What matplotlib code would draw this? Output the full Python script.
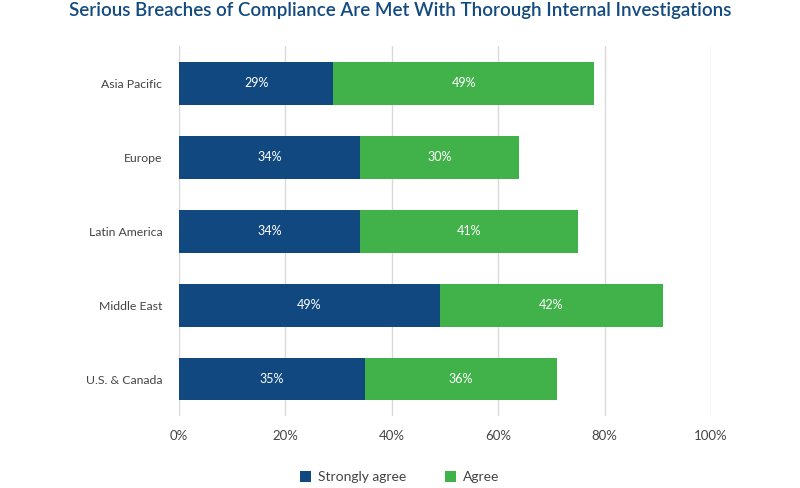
import numpy as np
import matplotlib.pyplot as plt

regions = ["Asia Pacific", "Europe", "Latin America", "Middle East", "U.S. & Canada"]
strongly_agree = [29, 34, 34, 49, 35]
agree = [49, 30, 41, 42, 36]
xticks = [0, 20, 40, 60, 80, 100]

blue = "#11487f"
green = "#41b14a"

plt.rcParams['font.family'] = ['Lato', 'DejaVu Sans']

fig = plt.figure(figsize=(8, 4.88), dpi=100)
ax = fig.add_axes([0.22375, 0.1475, 0.665, 0.758])

y = np.arange(len(regions))
h = 0.58
b1 = ax.barh(y, strongly_agree, height=h, color=blue, label="Strongly agree", zorder=3)
b2 = ax.barh(y, agree, left=strongly_agree, height=h, color=green, label="Agree", zorder=3)

for i in range(len(regions)):
    ax.text(strongly_agree[i] / 2, y[i], f"{strongly_agree[i]}%", ha="center", va="center",
            color="white", fontsize=9, zorder=4)
    ax.text(strongly_agree[i] + agree[i] / 2, y[i], f"{agree[i]}%", ha="center", va="center",
            color="white", fontsize=9, zorder=4)

ax.set_xlim(0, 100)
ax.set_ylim(len(regions) - 0.5, -0.5)
ax.set_xticks(xticks)
ax.set_xticklabels([f"{t}%" for t in xticks], color="#444444", fontsize=9.5)
ax.set_yticks(y)
ax.set_yticklabels(regions, color="#444444", fontsize=8.8)
ax.tick_params(axis="both", length=0)
ax.tick_params(axis="x", pad=10)
ax.tick_params(axis="y", pad=12)
ax.grid(axis="x", color="#d9d9d9", linewidth=1, zorder=0)
for s in ax.spines.values():
    s.set_visible(False)

fig.text(0.5, 0.978, "Serious Breaches of Compliance Are Met With Thorough Internal Investigations",
         ha="center", va="center", color="#134a80", fontsize=13.5, fontweight="semibold")

fig.legend(handles=[b1, b2], loc="center", bbox_to_anchor=(0.5, 0.022), ncol=2, frameon=False,
           fontsize=10, handlelength=0.8, handleheight=0.8, columnspacing=2.8, handletextpad=0.5,
           labelcolor="#444444")

fig.savefig("out.png", dpi=100)
